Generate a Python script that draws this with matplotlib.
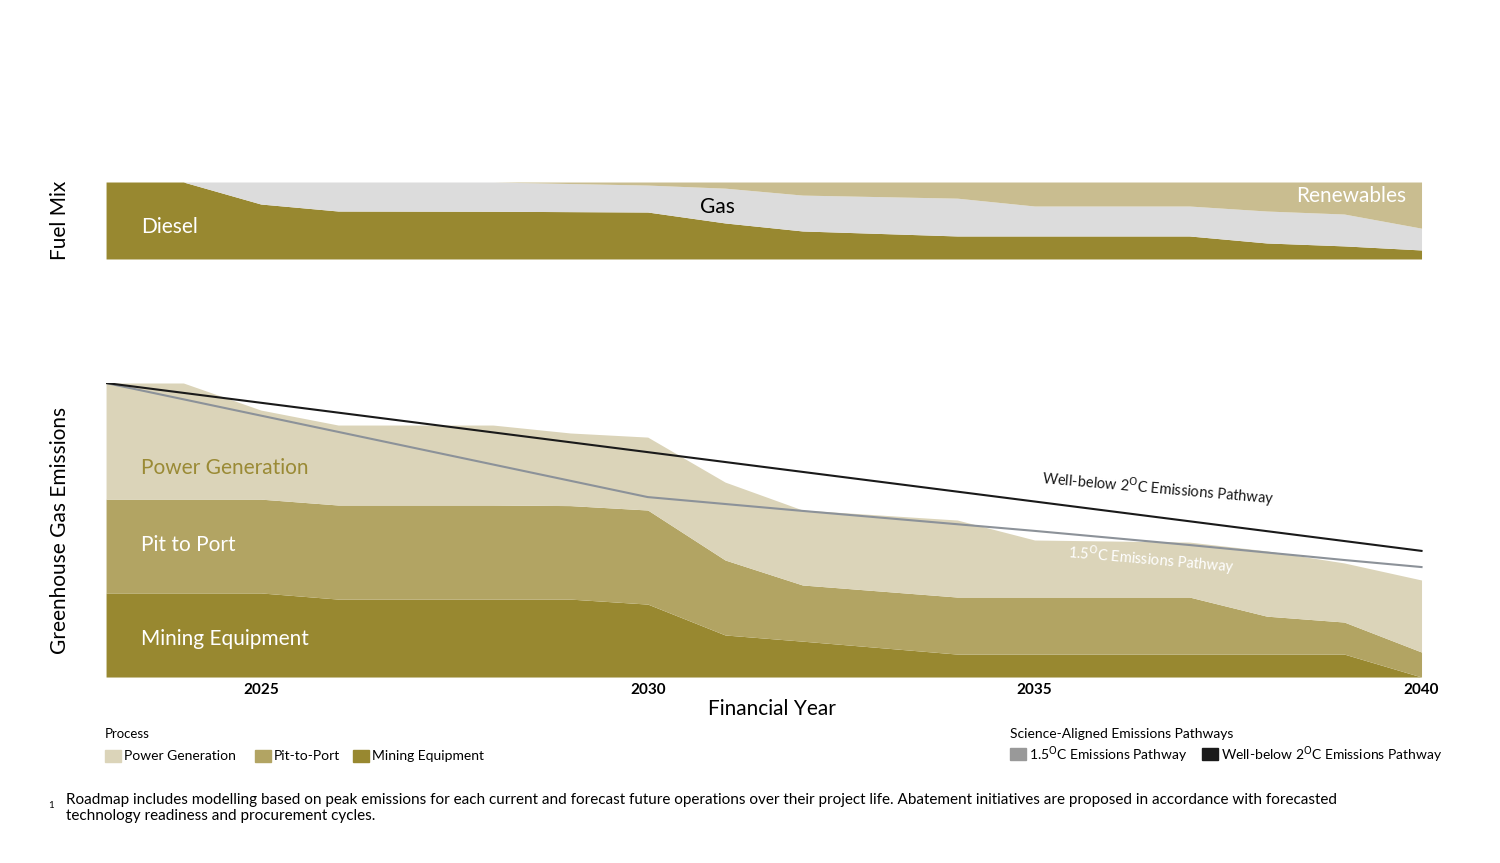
import numpy as np
import matplotlib.pyplot as plt
from matplotlib.patches import Rectangle

plt.rcParams["font.family"] = "Lato"

# fuel mix (% share, cumulative tops)
fuel_years = [2023, 2024, 2025, 2026, 2028, 2030, 2031, 2032, 2034, 2035, 2037, 2038, 2039, 2040]
diesel_top = [100, 100, 71.4, 62.3, 62, 61, 46.8, 36.4, 29.9, 29.9, 29.9, 20.8, 17, 11.7]
gas_top = [100, 100, 100, 100, 100, 96, 92, 83, 79, 68.8, 68.8, 62.3, 58.4, 40]

# emissions (relative, cumulative tops)
years = [2023, 2024, 2025, 2026, 2028, 2029, 2030, 2031, 2032, 2034, 2035, 2037, 2038, 2039, 2040]
mining = [28.6, 28.6, 28.6, 26.5, 26.5, 26.5, 24.8, 14.3, 12.2, 7.8, 7.8, 7.8, 7.8, 7.8, 0]
pit = [60.5, 60.5, 60.5, 58.5, 58.5, 58.3, 56.8, 39.8, 31.3, 27.2, 27.2, 27.2, 20.7, 18.7, 8.5]
power = [100, 100, 90.8, 85.7, 85.7, 83, 81.6, 66.3, 56.8, 53.4, 46.6, 45.9, 42.9, 38.8, 33]

path_years = [2023, 2030, 2032, 2035, 2037, 2039, 2040]
path_15 = [100, 61.2, 56.5, 49.7, 44.9, 39.8, 37.4]
path_2_years = [2023, 2040]
path_2 = [100, 42.9]

c_dark = "#988830"
c_mid = "#b2a463"
c_light = "#dbd4b9"
c_gas = "#dcdcdc"
c_ren = "#c9bd90"
c_15 = "#8c9299"
c_2 = "#1a1a1a"

fig = plt.figure(figsize=(15, 8.63), dpi=100)
x0, x1 = 2023, 2040.2
axf = fig.add_axes([0.0707, 0.6999, 0.8873, 0.0892])
axf.fill_between(fuel_years, 0, diesel_top, color=c_dark, lw=0)
axf.fill_between(fuel_years, diesel_top, gas_top, color=c_gas, lw=0)
axf.fill_between(fuel_years, gas_top, 100, color=c_ren, lw=0)
axf.set_xlim(x0, x1)
axf.set_ylim(0, 100)
axf.axis("off")
axf.text(2023.45, 42, "Diesel", color="white", fontsize=15, va="center")
axf.text(2030.9, 68, "Gas", color="black", fontsize=15, va="center", ha="center")
axf.text(2039.8, 82, "Renewables", color="white", fontsize=15, va="center", ha="right")
fig.text(0.04, 0.745, "Fuel Mix", rotation=90, fontsize=15, ha="center", va="center")

ax = fig.add_axes([0.0707, 0.2155, 0.8873, 0.3407])
ax.fill_between(years, 0, mining, color=c_dark, lw=0)
ax.fill_between(years, mining, pit, color=c_mid, lw=0)
ax.fill_between(years, pit, power, color=c_light, lw=0)
ax.plot(path_years, path_15, color=c_15, lw=1.5)
ax.plot(path_2_years, path_2, color=c_2, lw=1.5)
ax.set_xlim(x0, x1)
ax.set_ylim(0, 100)
ax.set_yticks([])
for s in ax.spines.values():
    s.set_visible(False)
ax.set_xticks([2025, 2030, 2035, 2040])
ax.tick_params(axis="x", length=0, labelsize=11, pad=4)
for lbl in ax.get_xticklabels():
    lbl.set_fontweight("bold")
ax.set_xlabel("Financial Year", fontsize=15, labelpad=2)
ax.text(2023.45, 71, "Power Generation", color="#9a8a35", fontsize=15, va="center")
ax.text(2023.45, 45, "Pit to Port", color="white", fontsize=15, va="center")
ax.text(2023.45, 13, "Mining Equipment", color="white", fontsize=15, va="center")
ax.text(2036.6, 64, "Well-below 2$^{\\mathrm{O}}$C Emissions Pathway", fontsize=10.5,
        rotation=-5, ha="center", va="center", color=c_2)
ax.text(2036.5, 40, "1.5$^{\\mathrm{O}}$C Emissions Pathway", fontsize=10.5,
        rotation=-5, ha="center", va="center", color="white")
fig.text(0.04, 0.385, "Greenhouse Gas Emissions", rotation=90, fontsize=15, ha="center", va="center")

# legends
def legend_item(x, y, color, label):
    fig.patches.append(Rectangle((x, y - 0.007), 0.0107, 0.0139, color=color,
                                 transform=fig.transFigure, figure=fig))
    fig.text(x + 0.013, y, label, fontsize=10, va="center")

fig.text(0.0697, 0.149, "Process", fontsize=9.5, va="center")
legend_item(0.0697, 0.124, c_light, "Power Generation")
legend_item(0.1697, 0.124, c_mid, "Pit-to-Port")
legend_item(0.2353, 0.124, c_dark, "Mining Equipment")
fig.text(0.673, 0.149, "Science-Aligned Emissions Pathways", fontsize=10, va="center")
legend_item(0.673, 0.126, "#999999", "1.5$^{\\mathrm{O}}$C Emissions Pathway")
legend_item(0.801, 0.126, c_2, "Well-below 2$^{\\mathrm{O}}$C Emissions Pathway")

fig.text(0.032, 0.067, "1", fontsize=7, va="center")
fig.text(0.044, 0.064, "Roadmap includes modelling based on peak emissions for each current and forecast future "
         "operations over their project life. Abatement initiatives are proposed in accordance with forecasted\n"
         "technology readiness and procurement cycles.", fontsize=11, va="center", linespacing=1.2)

fig.savefig("out.png", dpi=100)
